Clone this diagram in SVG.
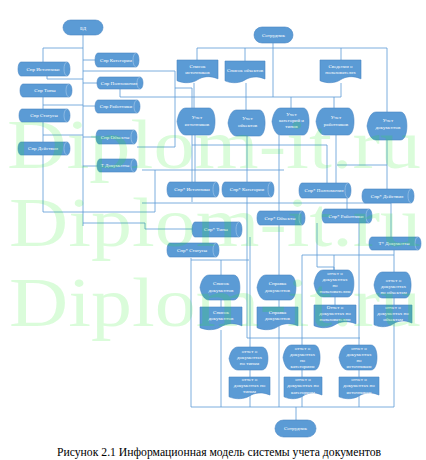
<svg xmlns="http://www.w3.org/2000/svg" xmlns:xlink="http://www.w3.org/1999/xlink" width="426" height="460" viewBox="0 0 426 460">
<style>
.n{fill:#5b9bd5;stroke:#4a87c4;stroke-width:0.6}
.e{fill:none;stroke:#a9cbeb;stroke-width:0.6}
.t{font-family:"Liberation Serif","Times New Roman",serif;font-size:5px;fill:#fff;text-anchor:middle}
.c{fill:none;stroke:#5b9bd5;stroke-width:0.8}
.wm{font-family:"Liberation Serif","Times New Roman",serif;font-size:70px;fill:#1aeb1a;fill-opacity:0.16}
.cap{font-family:"Liberation Serif","Times New Roman",serif;font-size:11.5px;fill:#000;text-anchor:middle}
</style>
<defs>
<path id="doc" d="M0,0H100V82C80,66 62,72 50,86C38,100 18,104 0,90Z" fill="#5b9bd5" stroke="#4a87c4" stroke-width="0.6" vector-effect="non-scaling-stroke"/>
<path id="disp" d="M0,50C3,22 10,0 22,0H80C100,0 100,100 80,100H22C10,100 3,78 0,50Z" fill="#5b9bd5" stroke="#4a87c4" stroke-width="0.6" vector-effect="non-scaling-stroke"/>
</defs>
<rect width="426" height="460" fill="#fff"/>
<g id="connectors" class="c">
<path d="M83,35V226"/>
<path d="M43,48H83M43,48V62"/>
<path d="M83,60H95"/>
<path d="M47,76V79H83"/>
<path d="M83,71H175V147H137"/>
<path d="M43,97V109M43,105H83"/>
<path d="M83,83H97"/>
<path d="M83,106H95"/>
<path d="M43,122V142M43,135H83"/>
<path d="M83,137H96"/>
<path d="M43,155V212H155V170M142,170H284"/>
<path d="M83,166H97"/>
<path d="M83,223H145V229H192"/>
<path d="M175,88H192V202"/>
<path d="M120,89V97H341"/>
<path d="M197,48H387M197,48V60M245,48V61M341,48V60M387,48V112"/>
<path d="M273,43V97"/>
<path d="M194,83V108M246,83V110M291,97V108M334,97V108M341,83V97"/>
<path d="M192,145H327V183"/>
<path d="M195,135V182"/>
<path d="M247,136V338"/>
<path d="M279,135V407"/>
<path d="M336,135V183"/>
<path d="M387,140V189M337,165H387"/>
<path d="M142,203H391V237"/>
<path d="M347,198V209"/>
<path d="M191,258V407H394V250"/>
<path d="M191,260H249"/>
<path d="M221,260V275M221,300V307M221,330V407"/>
<path d="M250,237V407"/>
<path d="M302,255V407M302,255H394"/>
<path d="M247,338H360"/>
<path d="M317,223V267H334V270M334,255V270"/>
<path d="M335,297V305"/>
<path d="M359,223V407"/>
<path d="M296,407V420"/>
</g>
<g id="bd"><rect class="n" x="63" y="20" width="40" height="15" rx="7.5"/><text class="t" x="83" y="29.5">БД</text></g>
<g id="sotrudnik-top"><rect class="n" x="254" y="27" width="39" height="16" rx="8"/><text class="t" x="273.5" y="37">Сотрудник</text></g>
<g id="spr-istochniki"><path class="n" d="M21,62H67A3,7 0 0 1 67,76H21A3,7 0 0 1 21,62Z"/><path class="e" d="M67,62A3,7 0 0 0 67,76"/><text class="t" x="43" y="70.5">Спр Источники</text></g>
<g id="spr-tipy"><path class="n" d="M23,84H69A3,6.5 0 0 1 69,97H23A3,6.5 0 0 1 23,84Z"/><path class="e" d="M69,84A3,6.5 0 0 0 69,97"/><text class="t" x="45" y="92">Спр Типы</text></g>
<g id="spr-statusy"><path class="n" d="M22,109H67A3,6.5 0 0 1 67,122H22A3,6.5 0 0 1 22,109Z"/><path class="e" d="M67,109A3,6.5 0 0 0 67,122"/><text class="t" x="44" y="117">Спр Статусы</text></g>
<g id="spr-deistviya"><path class="n" d="M21,142H67A3,6.5 0 0 1 67,155H21A3,6.5 0 0 1 21,142Z"/><path class="e" d="M67,142A3,6.5 0 0 0 67,155"/><text class="t" x="43" y="150">Спр Действия</text></g>
<g id="spr-kategorii"><path class="n" d="M98,53H136A3,7 0 0 1 136,67H98A3,7 0 0 1 98,53Z"/><path class="e" d="M136,53A3,7 0 0 0 136,67"/><text class="t" x="116" y="61.5">Спр Категории</text></g>
<g id="spr-polnomochiya"><path class="n" d="M100,77H140A3,6 0 0 1 140,89H100A3,6 0 0 1 100,77Z"/><path class="e" d="M140,77A3,6 0 0 0 140,89"/><text class="t" x="119" y="84.5">Спр Полномочия</text></g>
<g id="spr-rabotniki"><path class="n" d="M98,100H137A3,6.5 0 0 1 137,113H98A3,6.5 0 0 1 98,100Z"/><path class="e" d="M137,100A3,6.5 0 0 0 137,113"/><text class="t" x="116" y="108">Спр Работники</text></g>
<g id="spr-obekty"><path class="n" d="M99,130H134A3,7 0 0 1 134,144H99A3,7 0 0 1 99,130Z"/><path class="e" d="M134,130A3,7 0 0 0 134,144"/><text class="t" x="115" y="138.5">Спр Объекты</text></g>
<g id="t-dokumenty"><path class="n" d="M100,159H134A3,6.5 0 0 1 134,172H100A3,6.5 0 0 1 100,159Z"/><path class="e" d="M134,159A3,6.5 0 0 0 134,172"/><text class="t" x="115" y="167">Т Документы</text></g>
<g id="spisok-istochnikov"><use href="#doc" transform="translate(177,60) scale(0.41,0.23)"/><text class="t" x="197.5" y="67.5">Список</text><text class="t" x="197.5" y="74">источников</text></g>
<g id="spisok-obektov"><use href="#doc" transform="translate(225,61) scale(0.40,0.22)"/><text class="t" x="245" y="71.5">Список объектов</text></g>
<g id="svedeniya"><use href="#doc" transform="translate(320,60) scale(0.41,0.23)"/><text class="t" x="340.5" y="67.5">Сведения о</text><text class="t" x="340.5" y="74">пользователях</text></g>
<g id="uchet-istochnikov"><use href="#disp" transform="translate(177,108) scale(0.40,0.27)"/><text class="t" x="197" y="118.5">Учет</text><text class="t" x="197" y="126">источников</text></g>
<g id="uchet-obektov"><use href="#disp" transform="translate(228,110) scale(0.39,0.26)"/><text class="t" x="247.5" y="119.5">Учет</text><text class="t" x="247.5" y="126.5">объектов</text></g>
<g id="uchet-kategorii"><use href="#disp" transform="translate(272,108) scale(0.39,0.27)"/><text class="t" x="291.5" y="116">Учет</text><text class="t" x="291.5" y="122">категорий и</text><text class="t" x="291.5" y="128">типов</text></g>
<g id="uchet-rabotnikov"><use href="#disp" transform="translate(316,108) scale(0.40,0.27)"/><text class="t" x="336" y="118.5">Учет</text><text class="t" x="336" y="126">работников</text></g>
<g id="uchet-dokumentov"><use href="#disp" transform="translate(367,112) scale(0.42,0.28)"/><text class="t" x="388" y="121.5">Учет</text><text class="t" x="388" y="128.5">документов</text></g>
<g id="spr2-istochniki"><path class="n" d="M170,182H216A3,7.5 0 0 1 216,197H170A3,7.5 0 0 1 170,182Z"/><path class="e" d="M216,182A3,7.5 0 0 0 216,197"/><text class="t" x="192" y="191">Спр* Источники</text></g>
<g id="spr2-kategorii"><path class="n" d="M225,182H271A3,7.5 0 0 1 271,197H225A3,7.5 0 0 1 225,182Z"/><path class="e" d="M271,182A3,7.5 0 0 0 271,197"/><text class="t" x="247" y="191">Спр* Категории</text></g>
<g id="spr2-polnomochiya"><path class="n" d="M302,183H348A3,7.5 0 0 1 348,198H302A3,7.5 0 0 1 302,183Z"/><path class="e" d="M348,183A3,7.5 0 0 0 348,198"/><text class="t" x="324" y="192">Спр* Полномочия</text></g>
<g id="spr2-deistviya"><path class="n" d="M365,189H411A3,7 0 0 1 411,203H365A3,7 0 0 1 365,189Z"/><path class="e" d="M411,189A3,7 0 0 0 411,203"/><text class="t" x="387" y="197.5">Спр* Действия</text></g>
<g id="spr2-obekty"><path class="n" d="M260,211H302A3,7 0 0 1 302,225H260A3,7 0 0 1 260,211Z"/><path class="e" d="M302,211A3,7 0 0 0 302,225"/><text class="t" x="280" y="219.5">Спр* Объекты</text></g>
<g id="spr2-rabotniki"><path class="n" d="M325,209H369A3,7 0 0 1 369,223H325A3,7 0 0 1 325,209Z"/><path class="e" d="M369,209A3,7 0 0 0 369,223"/><text class="t" x="346" y="217.5">Спр* Работники</text></g>
<g id="spr2-tipy"><path class="n" d="M195,222H239A3,7.5 0 0 1 239,237H195A3,7.5 0 0 1 195,222Z"/><path class="e" d="M239,222A3,7.5 0 0 0 239,237"/><text class="t" x="216" y="231">Спр* Типы</text></g>
<g id="spr2-statusy"><path class="n" d="M170,243H216A3,7 0 0 1 216,257H170A3,7 0 0 1 170,243Z"/><path class="e" d="M216,243A3,7 0 0 0 216,257"/><text class="t" x="192" y="251.5">Спр* Статусы</text></g>
<g id="t2-dokumenty"><path class="n" d="M372,237H418A3,6.5 0 0 1 418,250H372A3,6.5 0 0 1 372,237Z"/><path class="e" d="M418,237A3,6.5 0 0 0 418,250"/><text class="t" x="394" y="245">Т* Документы</text></g>
<g id="spisok-dok-disp"><use href="#disp" transform="translate(200,275) scale(0.42,0.25)"/><text class="t" x="221" y="284.5">Список</text><text class="t" x="221" y="292">документов</text></g>
<g id="spravka-dok-disp"><use href="#disp" transform="translate(257,275) scale(0.41,0.25)"/><text class="t" x="277.5" y="284.5">Справка</text><text class="t" x="277.5" y="292">документов</text></g>
<g id="otchet-polz-disp"><use href="#disp" transform="translate(314,270) scale(0.42,0.27)"/><text class="t" x="335" y="274.5">отчет о</text><text class="t" x="335" y="280.5">документах</text><text class="t" x="335" y="286.5">по</text><text class="t" x="335" y="292.5">пользователям</text></g>
<g id="otchet-obekt-disp"><use href="#disp" transform="translate(374,272) scale(0.39,0.26)"/><text class="t" x="393.5" y="281.5">отчет о</text><text class="t" x="393.5" y="287.5">документах</text><text class="t" x="393.5" y="293.5">по объектам</text></g>
<g id="spisok-dok-doc"><use href="#doc" transform="translate(200,307) scale(0.42,0.23)"/><text class="t" x="221" y="313.5">Список</text><text class="t" x="221" y="319.5">документов</text></g>
<g id="spravka-dok-doc"><use href="#doc" transform="translate(257,307) scale(0.41,0.23)"/><text class="t" x="277.5" y="313.5">Справка</text><text class="t" x="277.5" y="319.5">документов</text></g>
<g id="otchet-polz-doc"><use href="#doc" transform="translate(314,305) scale(0.42,0.23)"/><text class="t" x="335" y="308.5">Отчет о</text><text class="t" x="335" y="314.5">документах по</text><text class="t" x="335" y="320.5">пользователям</text></g>
<g id="otchet-obekt-doc"><use href="#doc" transform="translate(374,305) scale(0.38,0.22)"/><text class="t" x="393" y="309">отчет о</text><text class="t" x="393" y="315">документах по</text><text class="t" x="393" y="321">объектам</text></g>
<g id="otchet-tipy-disp"><use href="#disp" transform="translate(229,347) scale(0.41,0.23)"/><text class="t" x="249.5" y="352.5">отчет о</text><text class="t" x="249.5" y="358.5">документах</text><text class="t" x="249.5" y="365">по типам</text></g>
<g id="otchet-kat-disp"><use href="#disp" transform="translate(283,345) scale(0.39,0.25)"/><text class="t" x="302.5" y="349.5">отчет о</text><text class="t" x="302.5" y="355.5">документах</text><text class="t" x="302.5" y="361.5">по</text><text class="t" x="302.5" y="367.5">категориям</text></g>
<g id="otchet-ist-disp"><use href="#disp" transform="translate(339,345) scale(0.40,0.25)"/><text class="t" x="359" y="349.5">отчет о</text><text class="t" x="359" y="355.5">документах</text><text class="t" x="359" y="361.5">по</text><text class="t" x="359" y="367.5">источникам</text></g>
<g id="otchet-tipy-doc"><use href="#doc" transform="translate(229,377) scale(0.41,0.22)"/><text class="t" x="249.5" y="380.5">отчет о</text><text class="t" x="249.5" y="386.5">документах по</text><text class="t" x="249.5" y="393">типам</text></g>
<g id="otchet-kat-doc"><use href="#doc" transform="translate(284,377) scale(0.38,0.22)"/><text class="t" x="303" y="380.5">отчет о</text><text class="t" x="303" y="387">документах по</text><text class="t" x="303" y="393.5">категориям</text></g>
<g id="otchet-ist-doc"><use href="#doc" transform="translate(339,377) scale(0.40,0.22)"/><text class="t" x="359" y="380.5">отчет о</text><text class="t" x="359" y="387">документах по</text><text class="t" x="359" y="393.5">источникам</text></g>
<g id="sotrudnik-bottom"><rect class="n" x="275" y="420" width="41" height="17" rx="8.5"/><text class="t" x="295.5" y="430">Сотрудник</text></g>
<g id="watermark">
<text class="wm" x="7" y="168" textLength="414" lengthAdjust="spacingAndGlyphs">Diplom-it.ru</text>
<text class="wm" x="9" y="246" textLength="412" lengthAdjust="spacingAndGlyphs">Diplom-it.ru</text>
<text class="wm" x="9" y="326" textLength="412" lengthAdjust="spacingAndGlyphs">Diplom-it.ru</text>
</g>
<text class="cap" x="219" y="456" textLength="324" lengthAdjust="spacingAndGlyphs">Рисунок 2.1 Информационная модель системы учета документов</text>
</svg>
